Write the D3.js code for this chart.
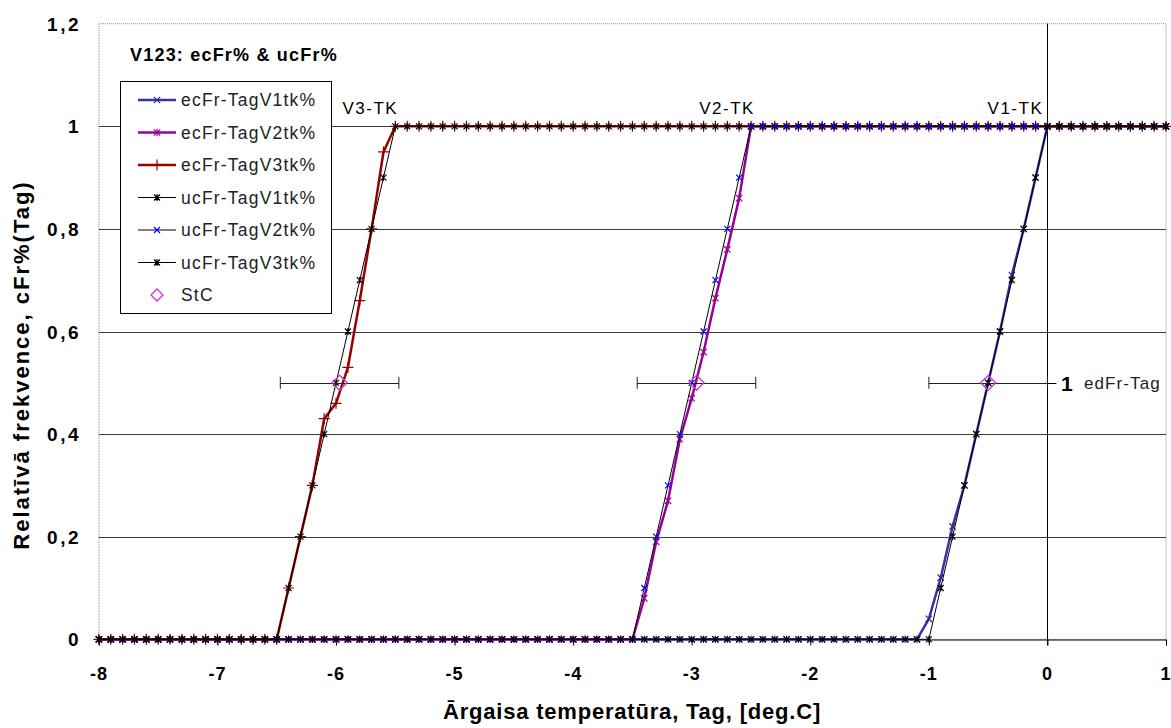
<!DOCTYPE html>
<html>
<head>
<meta charset="utf-8">
<script src="https://cdnjs.cloudflare.com/ajax/libs/d3/7.8.5/d3.min.js"></script>
<style>
  html, body { margin: 0; padding: 0; background: #fff; }
  svg { display: block; font-family: "Liberation Sans", Arial, sans-serif; }
</style>
</head>
<body>
<svg id="chart" width="1171" height="728"></svg>
<script>
// ---------------- DATA ----------------
const tag = [
  -8.0,-7.9,-7.8,-7.7,-7.6,-7.5,-7.4,-7.3,-7.2,-7.1,
  -7.0,-6.9,-6.8,-6.7,-6.6,-6.5,-6.4,-6.3,-6.2,-6.1,
  -6.0,-5.9,-5.8,-5.7,-5.6,-5.5,-5.4,-5.3,-5.2,-5.1,
  -5.0,-4.9,-4.8,-4.7,-4.6,-4.5,-4.4,-4.3,-4.2,-4.1,
  -4.0,-3.9,-3.8,-3.7,-3.6,-3.5,-3.4,-3.3,-3.2,-3.1,
  -3.0,-2.9,-2.8,-2.7,-2.6,-2.5,-2.4,-2.3,-2.2,-2.1,
  -2.0,-1.9,-1.8,-1.7,-1.6,-1.5,-1.4,-1.3,-1.2,-1.1,
  -1.0,-0.9,-0.8,-0.7,-0.6,-0.5,-0.4,-0.3,-0.2,-0.1,
   0.0, 0.1, 0.2, 0.3, 0.4, 0.5, 0.6, 0.7, 0.8, 0.9,
   1.0
];
const ecFrV1 = [
  0,0,0,0,0,0,0,0,0,0, 0,0,0,0,0,0,0,0,0,0, 0,0,0,0,0,0,0,0,0,0,
  0,0,0,0,0,0,0,0,0,0, 0,0,0,0,0,0,0,0,0,0, 0,0,0,0,0,0,0,0,0,0,
  0,0,0,0,0,0,0,0,0,0,
  0.04,0.12,0.22,0.30,0.40,0.50,0.60,0.71,0.80,0.90,
  1,1,1,1,1,1,1,1,1,1,1
];
const ecFrV2 = [
  0,0,0,0,0,0,0,0,0,0, 0,0,0,0,0,0,0,0,0,0, 0,0,0,0,0,0,0,0,0,0,
  0,0,0,0,0,0,0,0,0,0, 0,0,0,0,0,0,
  0.08,0.19,0.27,0.39,0.47,0.56,0.665,0.76,0.86,
  1,1,1,1,1,1,1,1,1,1, 1,1,1,1,1,1,1,1,1,1, 1,1,1,1,1,1,1,1,1,1, 1,1,1,1,1,1
];
const ecFrV3 = [
  0,0,0,0,0,0,0,0,0,0, 0,0,0,0,0,0,
  0.10,0.20,0.30,0.43,0.46,0.53,0.66,0.80,0.95,
  1,1,1,1,1,1,1,1,1,1, 1,1,1,1,1,1,1,1,1,1, 1,1,1,1,1,1,1,1,1,1,
  1,1,1,1,1,1,1,1,1,1, 1,1,1,1,1,1,1,1,1,1, 1,1,1,1,1,1,1,1,1,1,
  1,1,1,1,1,1
];
const ucFrV1 = [
  0,0,0,0,0,0,0,0,0,0, 0,0,0,0,0,0,0,0,0,0, 0,0,0,0,0,0,0,0,0,0,
  0,0,0,0,0,0,0,0,0,0, 0,0,0,0,0,0,0,0,0,0, 0,0,0,0,0,0,0,0,0,0,
  0,0,0,0,0,0,0,0,0,0, 0,
  0.1,0.2,0.3,0.4,0.5,0.6,0.7,0.8,0.9,
  1,1,1,1,1,1,1,1,1,1,1
];
const ucFrV2 = [
  0,0,0,0,0,0,0,0,0,0, 0,0,0,0,0,0,0,0,0,0, 0,0,0,0,0,0,0,0,0,0,
  0,0,0,0,0,0,0,0,0,0, 0,0,0,0,0,0,
  0.1,0.2,0.3,0.4,0.5,0.6,0.7,0.8,0.9,
  1,1,1,1,1,1,1,1,1,1, 1,1,1,1,1,1,1,1,1,1, 1,1,1,1,1,1,1,1,1,1, 1,1,1,1,1,1
];
const ucFrV3 = [
  0,0,0,0,0,0,0,0,0,0, 0,0,0,0,0,0,
  0.1,0.2,0.3,0.4,0.5,0.6,0.7,0.8,0.9,
  1,1,1,1,1,1,1,1,1,1, 1,1,1,1,1,1,1,1,1,1, 1,1,1,1,1,1,1,1,1,1,
  1,1,1,1,1,1,1,1,1,1, 1,1,1,1,1,1,1,1,1,1, 1,1,1,1,1,1,1,1,1,1,
  1,1,1,1,1,1
];
// StC points with horizontal error bars
const stcX = [-5.97, -2.96, -0.5];
const stcY = [0.5, 0.5, 0.5];
const stcErr = [0.5, 0.5, 0.5];

const seriesNames = ["ecFr-TagV1tk%","ecFr-TagV2tk%","ecFr-TagV3tk%","ucFr-TagV1tk%","ucFr-TagV2tk%","ucFr-TagV3tk%","StC"];
const xTicks = [-8,-7,-6,-5,-4,-3,-2,-1,0,1];
const yTicks = [0,0.2,0.4,0.6,0.8,1,1.2];
const yTickLabels = ["0","0,2","0,4","0,6","0,8","1","1,2"];
const tkLabels = ["V3-TK","V2-TK","V1-TK"];
const tkX = [-5.5, -2.5, 0];
const chartTitle = "V123: ecFr% & ucFr%";
const xTitle = "Ārgaisa temperatūra, Tag, [deg.C]";
const yTitle = "Relatīvā frekvence, cFr%(Tag)";

// --------------- STYLES ----------------
const styles = {
  ecV1: {line:"#3333a6", w:2.5, marker:"x",    mcol:"#2a2a90", ms:3.2},
  ecV2: {line:"#990099", w:2.5, marker:"star", mcol:"#990099", ms:3.2},
  ecV3: {line:"#990000", w:2.5, marker:"plus", mcol:"#990000", ms:5.5},
  ucV1: {line:"#000000", w:1,   marker:"star", mcol:"#000000", ms:3},
  ucV2: {line:"#000000", w:1,   marker:"x",    mcol:"#0000ff", ms:3},
  ucV3: {line:"#000000", w:1,   marker:"star", mcol:"#000000", ms:3}
};
const tkOffset = [-25, -24, -32];

const svg = d3.select("#chart");
const x = d3.scaleLinear().domain([-8, 1]).range([98.9, 1166]);
const y = d3.scaleLinear().domain([0, 1.2]).range([639.3, 23.7]);

// plot-area dotted border
svg.append("rect")
  .attr("x", x(-8)).attr("y", y(1.2))
  .attr("width", x(1) - x(-8)).attr("height", y(0) - y(1.2))
  .attr("fill", "none").attr("stroke", "#888").attr("stroke-dasharray", "1,1");

// gridlines
svg.append("g").selectAll("line").data(yTicks.filter(d => d > 0 && d < 1.2)).join("line")
  .attr("x1", x(-8)).attr("x2", x(1))
  .attr("y1", d => Math.round(y(d)) + 0.5).attr("y2", d => Math.round(y(d)) + 0.5)
  .attr("stroke", "#3a3a3a").attr("stroke-width", 1);

// vertical axis line at x = 0
svg.append("line")
  .attr("x1", Math.round(x(0)) + 0.5).attr("x2", Math.round(x(0)) + 0.5)
  .attr("y1", y(1.2)).attr("y2", y(0) + 6)
  .attr("stroke", "#000").attr("stroke-width", 1);

// x axis at y = 0
const xAxis = d3.axisBottom(x).tickValues(xTicks).tickSize(6).tickFormat("");
const gx = svg.append("g").attr("transform", `translate(0,${Math.round(y(0)) + 0.5})`).call(xAxis);
gx.select(".domain").attr("stroke", "#000");
gx.selectAll(".tick line").attr("stroke", "#000");

// tick labels
svg.append("g").selectAll("text").data(xTicks).join("text")
  .attr("x", d => x(d)).attr("y", 680)
  .attr("text-anchor", "middle")
  .attr("font-weight", "bold").attr("font-size", 18).attr("letter-spacing", 1)
  .text(d => d);
svg.append("g").selectAll("text").data(yTicks).join("text")
  .attr("x", 81).attr("y", d => y(d) + 7)
  .attr("text-anchor", "end")
  .attr("font-weight", "bold").attr("font-size", 19).attr("letter-spacing", 2.5)
  .text((d, i) => yTickLabels[i]);

// axis titles
svg.append("text")
  .attr("x", 632).attr("y", 719)
  .attr("text-anchor", "middle").attr("font-weight", "bold").attr("font-size", 22).attr("letter-spacing", 0.8)
  .text(xTitle);
svg.append("text")
  .attr("transform", "translate(29,365) rotate(-90)")
  .attr("text-anchor", "middle").attr("font-weight", "bold").attr("font-size", 22).attr("letter-spacing", 2)
  .text(yTitle);

// markers
function markerPath(type, s) {
  if (type === "x") return `M${-s},${-s}L${s},${s}M${-s},${s}L${s},${-s}`;
  if (type === "plus") return `M${-s},0L${s},0M0,${-s}L0,${s}`;
  // star
  return `M${-s},${-s}L${s},${s}M${-s},${s}L${s},${-s}M0,${-s-0.5}L0,${s+0.5}`;
}

const line = d3.line().x(d => x(d[0])).y(d => y(d[1]));
const order = [
  ["ecV1", ecFrV1], ["ecV2", ecFrV2], ["ecV3", ecFrV3],
  ["ucV3", ucFrV3], ["ucV2", ucFrV2], ["ucV1", ucFrV1]
];
order.forEach(([key, vals]) => {
  const st = styles[key];
  const pts = tag.map((t, i) => [t, vals[i]]);
  const g = svg.append("g");
  g.append("path").attr("d", line(pts))
    .attr("fill", "none").attr("stroke", st.line).attr("stroke-width", st.w)
    .attr("stroke-linejoin", "round");
  g.selectAll("path.m").data(pts).join("path").attr("class", "m")
    .attr("transform", d => `translate(${x(d[0])},${y(d[1])})`)
    .attr("d", markerPath(st.marker, st.ms))
    .attr("fill", "none").attr("stroke", st.mcol).attr("stroke-width", 1.2);
});

// StC error bars + diamonds
const eb = svg.append("g");
stcX.forEach((cx, i) => {
  const cy = y(stcY[i]);
  const x1 = x(cx - stcErr[i]), x2 = x(cx + stcErr[i]);
  eb.append("line").attr("x1", x1).attr("x2", x2).attr("y1", Math.round(cy)+0.5).attr("y2", Math.round(cy)+0.5)
    .attr("stroke", "#222").attr("stroke-width", 1);
  [x1, x2].forEach(xx => eb.append("line").attr("x1", xx).attr("x2", xx)
    .attr("y1", cy - 6).attr("y2", cy + 6).attr("stroke", "#222").attr("stroke-width", 1));
});
svg.append("g").selectAll("path").data(stcX.map((d, i) => [d, stcY[i]])).join("path")
  .attr("transform", d => `translate(${x(d[0])},${y(d[1])})`)
  .attr("d", "M0,-7.5L7.5,0L0,7.5L-7.5,0Z")
  .attr("fill", "none").attr("stroke", "#cc33cc").attr("stroke-width", 1.3);

// data label "1 edFr-Tag"
svg.append("line").attr("x1", x(0)).attr("x2", x(0) + 9)
  .attr("y1", Math.round(y(0.5)) + 0.5).attr("y2", Math.round(y(0.5)) + 0.5)
  .attr("stroke", "#000");
svg.append("text").attr("x", 1061).attr("y", y(0.5) + 8)
  .attr("font-weight", "bold").attr("font-size", 21).text("1");
svg.append("text").attr("x", 1084).attr("y", y(0.5) + 6)
  .attr("font-size", 17).attr("letter-spacing", 1.1).attr("fill", "#222").text("edFr-Tag");

// TK labels
svg.append("g").selectAll("text").data(tkLabels).join("text")
  .attr("x", (d, i) => x(tkX[i]) + tkOffset[i]).attr("y", 114)
  .attr("text-anchor", "middle").attr("font-size", 17).attr("letter-spacing", 1.5)
  .text(d => d);

// chart title
svg.append("text").attr("x", 130).attr("y", 61)
  .attr("font-weight", "bold").attr("font-size", 18).attr("letter-spacing", 1.2)
  .text(chartTitle);

// legend
const lg = svg.append("g");
lg.append("rect").attr("x", 120.5).attr("y", 81.5).attr("width", 211).attr("height", 232)
  .attr("fill", "#fff").attr("stroke", "#000").attr("stroke-width", 1);
const legendKeys = ["ecV1","ecV2","ecV3","ucV1","ucV2","ucV3","StC"];
const rowY = d3.scaleLinear().domain([0, 6]).range([100, 295]);
legendKeys.forEach((k, i) => {
  const cy = rowY(i);
  if (k === "StC") {
    lg.append("path").attr("transform", `translate(157,${cy})`)
      .attr("d", "M0,-6L6,0L0,6L-6,0Z").attr("fill", "none")
      .attr("stroke", "#cc33cc").attr("stroke-width", 1.3);
  } else {
    const st = styles[k];
    lg.append("line").attr("x1", 138).attr("x2", 176).attr("y1", cy).attr("y2", cy)
      .attr("stroke", st.line).attr("stroke-width", st.w);
    lg.append("path").attr("transform", `translate(157,${cy})`)
      .attr("d", markerPath(st.marker, st.ms)).attr("fill", "none")
      .attr("stroke", st.mcol).attr("stroke-width", 1.2);
  }
  lg.append("text").attr("x", 181).attr("y", cy + 6)
    .attr("font-size", 17.5).attr("letter-spacing", 1.2).attr("fill", "#222")
    .text(seriesNames[i]);
});
</script>
</body>
</html>
